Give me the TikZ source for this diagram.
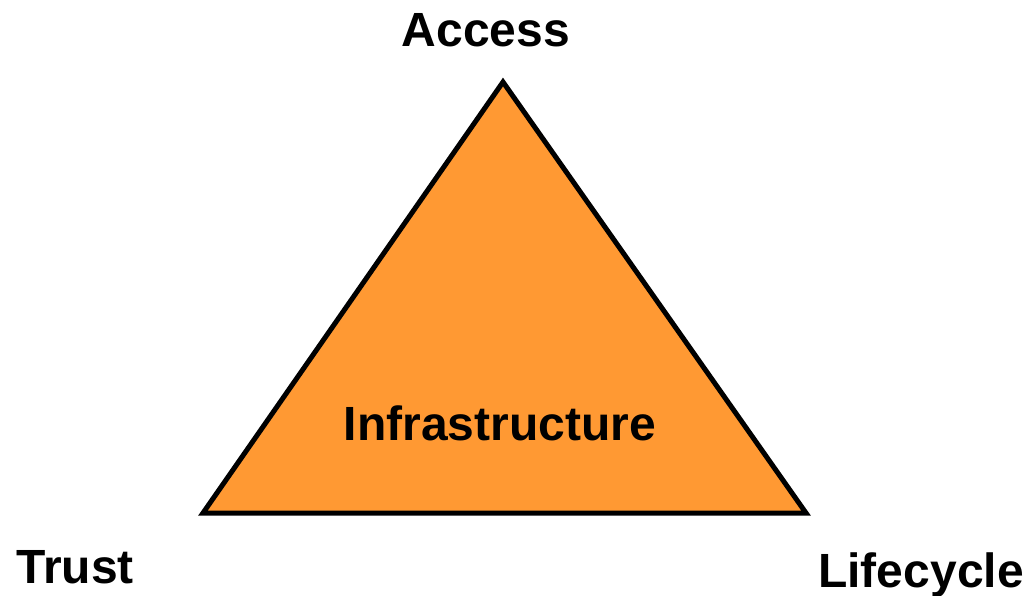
\documentclass[tikz,border=0pt]{standalone}
\usepackage{fontspec}
\setmainfont{Liberation Sans}
\definecolor{triorange}{HTML}{FF9933}
\begin{document}
\begin{tikzpicture}[x=1pt,y=-1pt,
  label/.style={font=\fontsize{48}{56}\selectfont\bfseries, inner sep=0pt, anchor=base},
  tri/.style={fill=triorange, draw=black, line width=5pt, line join=miter}]
\useasboundingbox (0,0) rectangle (1029,596);
% corners of the triangle
\coordinate (top) at (503,82);
\coordinate (bl) at (203,513);
\coordinate (br) at (806,513);
\draw[tri] (top) -- (br) -- (bl) -- cycle;
% labels
\node[label] (access) at (486,47) {Access};
\node[label] (infra) at (500,440) {Infrastructure};
\node[label] (trust) at (75,583) {Trust};
\node[label] (life) at (921,587) {Lifecycle};
\end{tikzpicture}
\end{document}
